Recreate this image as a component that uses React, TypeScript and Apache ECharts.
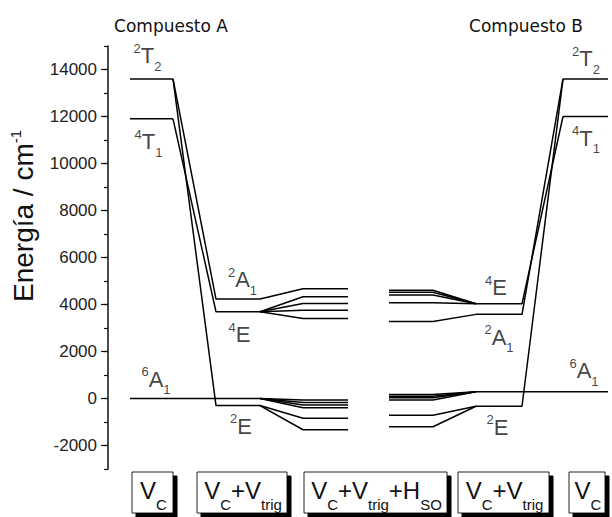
import React, { useEffect, useRef } from 'react';
import * as echarts from 'echarts';

// ---- Stage columns along the schematic x axis (0..504) ----
const stageA = { freeStart: 22, freeEnd: 65, trigStart: 108, trigEnd: 152, soStart: 195, soEnd: 240 };
const stageB = { soStart: 281, soEnd: 325, trigStart: 368, trigEnd: 414, freeStart: 455, freeEnd: 500 };

// ---- Compuesto A energies (cm-1) ----
const freeA = [13600, 11900]; // 2T2, 4T1
const trigA = [4230, 3690, -300]; // 2A1, 4E, 2E
const trigParentA = [0, 1, 0];
const groundA = 0; // 6A1
const soA_2A1 = [4670];
const soA_4E = [4330, 4040, 3760, 3400];
const soA_6A1 = [-60, -170, -280, -390];
const soA_2E = [-840, -1330];

// ---- Compuesto B energies (cm-1) ----
const freeB = [13600, 12000]; // 2T2, 4T1
const trigB = [3580, 4030, -330]; // 2A1, 4E, 2E
const trigParentB = [0, 1, 0];
const groundB = 290; // 6A1
const soB_2A1 = [3280];
const soB_4E = [4610, 4520, 4400, 4070];
const soB_6A1 = [170, 100, 30, -60];
const soB_2E = [-710, -1200];

// ---- Term symbol labels ----
const termLabels = [
  { sup: '2', main: 'T', sub: '2' },
  { sup: '4', main: 'T', sub: '1' },
  { sup: '2', main: 'A', sub: '1' },
  { sup: '4', main: 'E', sub: '' },
  { sup: '6', main: 'A', sub: '1' },
  { sup: '2', main: 'E', sub: '' },
  { sup: '2', main: 'T', sub: '2' },
  { sup: '4', main: 'T', sub: '1' },
  { sup: '4', main: 'E', sub: '' },
  { sup: '2', main: 'A', sub: '1' },
  { sup: '6', main: 'A', sub: '1' },
  { sup: '2', main: 'E', sub: '' },
];
// anchor of each label (x stage unit, energy)
const termAnchors = [
  [39.5, 14575], [40.5, 10936], [134.5, 5043], [131.5, 2723], [48, 809], [133, -1191],
  [478, 14468], [478, 11064], [388, 4723], [391, 2596], [476, 1191], [389.5, -1234],
];

// ---- Y ticks ----
const yMin = -3000;
const yMax = 15000;
const yMinorStep = 1000;
const yMajorMin = -2000;
const yMajorMax = 14000;
const yMajorStep = 2000;

const titles = ['Compuesto A', 'Compuesto B'];
const boxTexts = [
  '{v|V}{s|C}',
  '{v|V}{s|C}{v|+V}{s|trig}',
  '{v|V}{s|C}{v|+V}{s|trig}{v|+H}{s|SO}',
  '{v|V}{s|C}{v|+V}{s|trig}',
  '{v|V}{s|C}',
];
const boxSpans = [[132, 173], [197, 287], [304, 447], [458, 549], [569, 605]];

type Pt = [number, number];

function buildLines(): Pt[][] {
  const paths: Pt[][] = [];
  freeA.forEach((e) => paths.push([[stageA.freeStart, e], [stageA.freeEnd, e]]));
  trigA.forEach((e, j) =>
    paths.push([[stageA.freeEnd, freeA[trigParentA[j]]], [stageA.trigStart, e], [stageA.trigEnd, e]])
  );
  paths.push([[stageA.freeStart, groundA], [stageA.trigEnd, groundA]]);
  const fanA = (from: number, list: number[]) =>
    list.forEach((v) => paths.push([[stageA.trigEnd, from], [stageA.soStart, v], [stageA.soEnd, v]]));
  fanA(trigA[0], soA_2A1);
  fanA(trigA[1], soA_4E);
  fanA(groundA, soA_6A1);
  fanA(trigA[2], soA_2E);

  freeB.forEach((e) => paths.push([[stageB.freeStart, e], [stageB.freeEnd, e]]));
  trigB.forEach((e, j) =>
    paths.push([[stageB.trigStart, e], [stageB.trigEnd, e], [stageB.freeStart, freeB[trigParentB[j]]]])
  );
  paths.push([[stageB.trigStart, groundB], [stageB.freeEnd, groundB]]);
  const fanB = (from: number, list: number[]) =>
    list.forEach((v) => paths.push([[stageB.soStart, v], [stageB.soEnd, v], [stageB.trigStart, from]]));
  fanB(trigB[1], soB_4E);
  fanB(trigB[0], soB_2A1);
  fanB(groundB, soB_6A1);
  fanB(trigB[2], soB_2E);
  return paths;
}

export default function App() {
  const ref = useRef<HTMLDivElement>(null);

  useEffect(() => {
    const chart = echarts.init(ref.current!, null, { renderer: 'svg' });
    const lineColor = '#000';
    const lines = buildLines();

    const lineSeries = lines.map((d) => ({
      type: 'line',
      xAxisIndex: 0,
      yAxisIndex: 0,
      data: d,
      symbol: 'none',
      showSymbol: false,
      silent: true,
      lineStyle: { color: lineColor, width: 1.5 },
      z: 2,
    }));

    const noBorder = { textBorderWidth: 0, textBorderColor: 'transparent', textShadowBlur: 0 };
    const labelSeries = {
      type: 'scatter',
      xAxisIndex: 0,
      yAxisIndex: 0,
      symbolSize: 0,
      silent: true,
      z: 5,
      itemStyle: { color: '#111' },
      data: termLabels.map((l, i) => ({
        value: termAnchors[i],
        label: {
          formatter: `{sup|${l.sup}}{main|${l.main}}` + (l.sub ? `{sub|${l.sub}}` : ''),
        },
      })),
      label: {
        show: true,
        position: 'inside',
        color: '#111',
        fontFamily: 'Liberation Sans',
        ...noBorder,
        rich: {
          sup: { fontSize: 13, lineHeight: 13, verticalAlign: 'top', padding: [4, 0, 0, 0], color: '#111', fontFamily: 'Liberation Sans', ...noBorder },
          main: { fontSize: 22, lineHeight: 36, color: '#111', fontFamily: 'Liberation Sans', ...noBorder },
          sub: { fontSize: 13, lineHeight: 13, verticalAlign: 'bottom', padding: [0, 0, 1, 0], color: '#111', fontFamily: 'Liberation Sans', ...noBorder },
        },
      },
    };

    const boxRich = {
      v: { fontSize: 24, lineHeight: 44, fill: '#111', fontFamily: 'Liberation Sans' },
      s: { fontSize: 15, lineHeight: 13, verticalAlign: 'bottom', fill: '#111', fontFamily: 'Liberation Sans' },
    };
    const boxTop = 472;
    const boxH = 41;
    const shadowOff = 4;

    const boxGraphics: any[] = [];
    boxSpans.forEach(([x1, x2], i) => {
      boxGraphics.push({
        type: 'rect',
        id: 'boxFace' + i,
        z: 51,
        shape: { x: x1, y: boxTop, width: x2 - x1, height: boxH },
        style: {
          fill: '#fff',
          stroke: '#222',
          lineWidth: 1,
          shadowBlur: 0.01,
          shadowOffsetX: shadowOff,
          shadowOffsetY: shadowOff,
          shadowColor: '#000',
        },
      });
      // right and bottom shadow edges drawn above the face layer
      boxGraphics.push({
        type: 'line',
        id: 'shadowRight' + i,
        z: 60,
        shape: { x1: x2 + shadowOff / 2, y1: boxTop + shadowOff, x2: x2 + shadowOff / 2, y2: boxTop + boxH + shadowOff },
        style: { stroke: '#000', lineWidth: shadowOff },
      });
      boxGraphics.push({
        type: 'line',
        id: 'shadowBottom' + i,
        z: 60,
        shape: { x1: x1 + shadowOff, y1: boxTop + boxH + shadowOff / 2, x2: x2 + shadowOff, y2: boxTop + boxH + shadowOff / 2 },
        style: { stroke: '#000', lineWidth: shadowOff },
      });
      boxGraphics.push({
        type: 'text',
        id: 'boxText' + i,
        z: 62,
        x: (x1 + x2) / 2 + 1,
        y: 490,
        style: {
          text: boxTexts[i],
          rich: boxRich,
          fill: '#111',
          align: 'center',
          verticalAlign: 'middle',
          font: '24px "Liberation Sans"',
        },
      });
    });

    const option: any = {
      animation: false,
      backgroundColor: '#fff',
      grid: [
        { left: 108, width: 504, top: 46, height: 423, containLabel: false },
        { left: 108, width: 504, top: 69.5, height: 376, containLabel: false },
      ],
      xAxis: [
        { gridIndex: 0, type: 'value', min: 0, max: 504, show: false },
        { gridIndex: 1, type: 'value', min: 0, max: 504, show: false },
      ],
      yAxis: [
        {
          gridIndex: 0,
          type: 'value',
          min: yMin,
          max: yMax,
          interval: yMinorStep,
          axisLine: { show: true, onZero: false, lineStyle: { color: '#111', width: 1.5 } },
          axisTick: { show: true, length: 4, lineStyle: { color: '#111', width: 1.2 } },
          axisLabel: { show: false },
          splitLine: { show: false },
        },
        {
          gridIndex: 1,
          type: 'value',
          min: yMajorMin,
          max: yMajorMax,
          interval: yMajorStep,
          axisLine: { show: false, onZero: false },
          axisTick: { show: true, length: 7, lineStyle: { color: '#111', width: 1.2 } },
          axisLabel: {
            show: true,
            fontSize: 17,
            color: '#222',
            fontFamily: 'Liberation Sans',
            margin: 11,
            formatter: (v: number) => String(v),
          },
          splitLine: { show: false },
        },
      ],
      graphic: {
        elements: [
          {
            type: 'text',
            id: 'titleA',
            x: 171,
            y: 26,
            style: { text: titles[0], fill: '#111', align: 'center', verticalAlign: 'middle', font: '17px "DejaVu Sans"' },
          },
          {
            type: 'text',
            id: 'titleB',
            x: 526,
            y: 26,
            style: { text: titles[1], fill: '#111', align: 'center', verticalAlign: 'middle', font: '17px "DejaVu Sans"' },
          },
          {
            type: 'text',
            id: 'yname',
            x: 23,
            y: 302,
            rotation: Math.PI / 2,
            style: {
              text: '{a|Energía / cm}{b|-1}',
              rich: {
                a: { fontSize: 28, lineHeight: 30, fill: '#111', fontFamily: 'Liberation Sans' },
                b: { fontSize: 15, lineHeight: 15, verticalAlign: 'top', fill: '#111', fontFamily: 'Liberation Sans' },
              },
              fill: '#111',
              align: 'left',
              verticalAlign: 'middle',
              font: '28px "Liberation Sans"',
            },
          },
          ...boxGraphics,
        ],
      },
      series: [...lineSeries, labelSeries],
    };

    chart.setOption(option);
    return () => chart.dispose();
  }, []);

  return (
    <div
      ref={ref}
      style={{ position: 'fixed', left: 0, top: 0, width: 612, height: 517, background: '#fff' }}
    />
  );
}
